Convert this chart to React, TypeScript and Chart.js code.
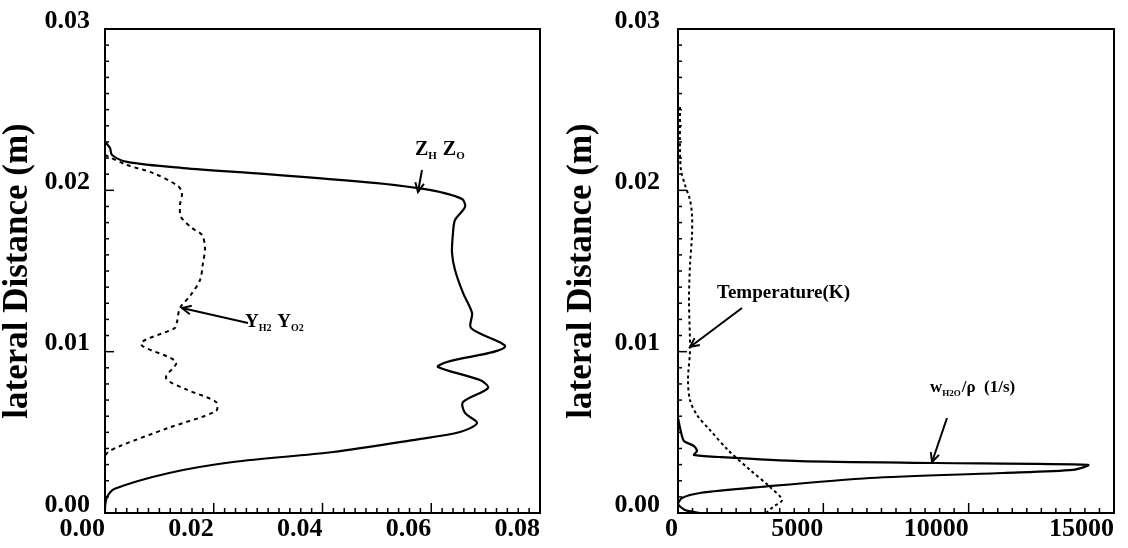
import React, { useEffect, useRef } from "react";
import { Chart, registerables } from "chart.js";

Chart.register(...registerables);

const FONT = "'Liberation Serif', 'Times New Roman', serif";

// Tick labels
const distTickLabels = ["0.00", "0.01", "0.02", "0.03"];
const leftXTickLabels = ["0.00", "0.02", "0.04", "0.06", "0.08"];
const rightXTickLabels = ["0", "5000", "10000", "15000"];

// Left panel: Z_H Z_O (solid)
const zDist = [0.0230, 0.02262, 0.02219, 0.02176, 0.02138, 0.02101, 0.02045, 0.02014, 0.0199, 0.01946, 0.01897, 0.01816, 0.01736, 0.01612, 0.01506, 0.01364, 0.0124, 0.01147, 0.01029, 0.00936, 0.00905, 0.00824, 0.00775, 0.00688, 0.0062, 0.00558, 0.00502, 0.00452, 0.00378, 0.00316, 0.00248, 0.0015, 0.00099, 0.00037, 0];
const zVal = [0, 0.00092, 0.00129, 0.00405, 0.01434, 0.02979, 0.05002, 0.05756, 0.06161, 0.06566, 0.06621, 0.06437, 0.064, 0.06382, 0.06437, 0.06584, 0.0675, 0.06731, 0.07356, 0.0629, 0.06124, 0.06897, 0.07044, 0.06584, 0.06621, 0.06842, 0.06529, 0.05664, 0.04193, 0.02354, 0.0118, 0.0018, 0.00037, 0, 0];

// Left panel: Y_H2 Y_O2 (dotted)
const yDist = [0.02219, 0.02157, 0.02107, 0.02027, 0.01983, 0.01909, 0.01835, 0.01767, 0.01723, 0.01643, 0.0155, 0.01444, 0.01345, 0.01271, 0.01184, 0.01147, 0.01048, 0.00936, 0.00837, 0.00769, 0.00688, 0.00632, 0.00527, 0.00415, 0.00372, 0.00329, 0];
const yVal = [0, 0.00405, 0.00883, 0.01343, 0.01416, 0.01379, 0.01398, 0.016, 0.01784, 0.01839, 0.01802, 0.01747, 0.01563, 0.01379, 0.01324, 0.01287, 0.00662, 0.01306, 0.01122, 0.01471, 0.02041, 0.02041, 0.01159, 0.00276, 0.00037, 0, 0];

// Right panel: w_H2O / rho (solid)
const wDist = [0.00589, 0.00502, 0.00446, 0.00415, 0.00384, 0.0036, 0.00347, 0.00322, 0.0031, 0.00298, 0.00267, 0.00248, 0.00217, 0.00161, 0.00124, 0.00093, 0.00056, 0.00019, 0];
const wVal = [0, 103, 206, 550, 654, 550, 1445, 4197, 8910, 14106, 13589, 11181, 6606, 2821, 757, 138, 0, 241, 757];

// Right panel: Temperature (dotted)
const tDist = [0.02516, 0.0225, 0.02126, 0.02033, 0.0194, 0.01847, 0.01723, 0.01537, 0.0132, 0.0101, 0.00824, 0.007, 0.00607, 0.00514, 0.0039, 0.00267, 0.00161, 0.00081, 0.00037, 0];
const tVal = [69, 69, 103, 241, 413, 482, 482, 413, 378, 413, 344, 413, 654, 1101, 1720, 2477, 3165, 3578, 3268, 3028];

type Seg = { t: string; sub?: boolean };
type Note = { x: number; y: number; size: number; segs: Seg[] };
type Arrow = { x1: number; y1: number; x2: number; y2: number };

const leftNotes: Note[] = [
  { x: 0.0570, y: 0.02219, size: 20, segs: [{ t: "Z" }, { t: "H", sub: true }, { t: " Z" }, { t: "O", sub: true }] },
  { x: 0.02575, y: 0.01153, size: 19, segs: [{ t: "Y" }, { t: "H2", sub: true }, { t: " Y" }, { t: "O2", sub: true }] },
];
const leftArrows: Arrow[] = [
  { x1: 0.0583, y1: 0.02126, x2: 0.05756, y2: 0.0199 },
  { x1: 0.0263, y1: 0.01178, x2: 0.01416, y2: 0.01271 },
];
const rightNotes: Note[] = [
  { x: 1342, y: 0.01333, size: 19, segs: [{ t: "Temperature(K)" }] },
  { x: 8670, y: 0.0075, size: 17, segs: [{ t: "w" }, { t: "H2O", sub: true }, { t: "/ρ  (1/s)" }] },
];
const rightArrows: Arrow[] = [
  { x1: 2202, y1: 0.01271, x2: 413, y2: 0.01029 },
  { x1: 9255, y1: 0.00589, x2: 8739, y2: 0.00316 },
];

const zip = (xs: number[], ys: number[]) => xs.map((x, i) => ({ x, y: ys[i] }));

const framePlugin = {
  id: "frame",
  afterDatasetsDraw(chart: any, _args: any, opts: any) {
    const { ctx, chartArea: a, scales } = chart;
    const xs = scales.x;
    const ys = scales.y;
    ctx.save();
    ctx.strokeStyle = "#000";
    ctx.lineWidth = 2;
    ctx.strokeRect(a.left, a.top, a.right - a.left, a.bottom - a.top);
    ctx.lineWidth = 1.5;
    for (let i = 0; i <= opts.yCount; i++) {
      const p = ys.getPixelForValue(i * opts.yStep);
      const len = i % opts.yMajorEvery === 0 ? 9 : 4;
      ctx.beginPath();
      ctx.moveTo(a.left, p);
      ctx.lineTo(a.left + len, p);
      ctx.stroke();
    }
    for (let i = 0; i <= opts.xCount; i++) {
      const p = xs.getPixelForValue(i * opts.xStep);
      const len = i % opts.xMajorEvery === 0 ? 10 : 5;
      ctx.beginPath();
      ctx.moveTo(p, a.bottom);
      ctx.lineTo(p, a.bottom - len);
      ctx.stroke();
    }
    ctx.lineWidth = 2;
    ctx.fillStyle = "#000";
    for (const ar of opts.arrows as Arrow[]) {
      const x1 = xs.getPixelForValue(ar.x1), y1 = ys.getPixelForValue(ar.y1);
      const x2 = xs.getPixelForValue(ar.x2), y2 = ys.getPixelForValue(ar.y2);
      ctx.beginPath();
      ctx.moveTo(x1, y1);
      ctx.lineTo(x2, y2);
      ctx.stroke();
      const ang = Math.atan2(y2 - y1, x2 - x1);
      const hl = 10;
      ctx.beginPath();
      ctx.moveTo(x2 - hl * Math.cos(ang - 0.45), y2 - hl * Math.sin(ang - 0.45));
      ctx.lineTo(x2, y2);
      ctx.lineTo(x2 - hl * Math.cos(ang + 0.45), y2 - hl * Math.sin(ang + 0.45));
      ctx.stroke();
    }
    ctx.textBaseline = "alphabetic";
    ctx.textAlign = "left";
    for (const n of opts.notes as Note[]) {
      let cx = xs.getPixelForValue(n.x);
      const by = ys.getPixelForValue(n.y);
      for (const s of n.segs) {
        const size = s.sub ? Math.round(n.size * 0.55) : n.size;
        ctx.font = `bold ${size}px ${FONT}`;
        ctx.fillText(s.t, cx, by + (s.sub ? n.size * 0.22 : 0));
        cx += ctx.measureText(s.t).width + (s.sub ? 1 : 0);
      }
    }
    ctx.restore();
  },
};

function makeConfig(p: {
  datasets: any[];
  xMax: number;
  xStepMajor: number;
  xLabels: string[];
  yAxisWidth: number;
  padRight: number;
  yLabelPad: number;
  frame: any;
}) {
  return {
    type: "scatter" as const,
    data: { datasets: p.datasets },
    plugins: [framePlugin],
    options: {
      responsive: false,
      animation: false as const,
      layout: { padding: { left: 0, top: 29, right: p.padRight, bottom: 0 } },
      plugins: { legend: { display: false }, tooltip: { enabled: false }, frame: p.frame },
      elements: { point: { radius: 0 } },
      scales: {
        x: {
          type: "linear" as const,
          min: 0,
          max: p.xMax,
          grid: { display: false, drawTicks: false },
          border: { display: false },
          afterFit: (s: any) => {
            s.height = 35;
            s.paddingLeft = 0;
            s.paddingRight = 0;
            s.paddingTop = 0;
            s.paddingBottom = 0;
          },
          ticks: {
            stepSize: p.xStepMajor,
            align: "end" as const,
            padding: 1,
            maxRotation: 0,
            autoSkip: false,
            color: "#000",
            font: { family: FONT, size: 26, weight: "bold" as const, lineHeight: 1.2 },
            callback: (v: number) => p.xLabels[Math.round(v / p.xStepMajor)] ?? "",
          },
        },
        y: {
          type: "linear" as const,
          min: 0,
          max: 0.03,
          grid: { display: false, drawTicks: false },
          border: { display: false },
          afterFit: (s: any) => {
            s.width = p.yAxisWidth;
            s.paddingLeft = 0;
            s.paddingRight = 0;
            s.paddingTop = 0;
            s.paddingBottom = 0;
          },
          title: {
            display: true,
            text: "lateral Distance (m)",
            color: "#000",
            padding: { top: 0, bottom: 0 },
            font: { family: FONT, size: 35, weight: "bold" as const, lineHeight: 1 },
          },
          ticks: {
            stepSize: 0.01,
            padding: p.yLabelPad,
            labelOffset: -8,
            autoSkip: false,
            color: "#000",
            font: { family: FONT, size: 26, weight: "bold" as const },
            callback: (v: number) => distTickLabels[Math.round(v / 0.01)] ?? "",
          },
        },
      },
    },
  };
}

export default function App() {
  const leftRef = useRef<HTMLCanvasElement>(null);
  const rightRef = useRef<HTMLCanvasElement>(null);

  useEffect(() => {
    document.body.style.margin = "0";
    document.body.style.background = "#fff";
    const solid = { borderColor: "#000", borderWidth: 2.2, showLine: true, tension: 0.3, pointRadius: 0, fill: false };
    const dotted = { ...solid, borderWidth: 2, borderDash: [4, 4] };
    const left = new Chart(
      leftRef.current!,
      makeConfig({
        datasets: [
          { ...solid, label: "ZH ZO", data: zip(zVal, zDist) },
          { ...dotted, label: "YH2 YO2", data: zip(yVal, yDist) },
        ],
        xMax: 0.08,
        xStepMajor: 0.02,
        xLabels: leftXTickLabels,
        yAxisWidth: 105,
        padRight: 24,
        yLabelPad: 15,
        frame: { yStep: 0.001, yCount: 30, yMajorEvery: 10, xStep: 0.002, xCount: 40, xMajorEvery: 10, notes: leftNotes, arrows: leftArrows },
      }) as any
    );
    const right = new Chart(
      rightRef.current!,
      makeConfig({
        datasets: [
          { ...solid, label: "wH2O/rho", tension: 0.25, data: zip(wVal, wDist) },
          { ...dotted, borderDash: [3, 3], label: "Temperature(K)", data: zip(tVal, tDist) },
        ],
        xMax: 15000,
        xStepMajor: 5000,
        xLabels: rightXTickLabels,
        yAxisWidth: 114,
        padRight: 14,
        yLabelPad: 18,
        frame: { yStep: 0.001, yCount: 30, yMajorEvery: 10, xStep: 500, xCount: 30, xMajorEvery: 10, notes: rightNotes, arrows: rightArrows },
      }) as any
    );
    return () => {
      left.destroy();
      right.destroy();
    };
  }, []);

  return (
    <div style={{ position: "relative", width: 1128, height: 548, background: "#fff", overflow: "hidden" }}>
      <canvas ref={leftRef} width={564} height={548} style={{ position: "absolute", left: 0, top: 0 }} />
      <canvas ref={rightRef} width={564} height={548} style={{ position: "absolute", left: 564, top: 0 }} />
    </div>
  );
}
